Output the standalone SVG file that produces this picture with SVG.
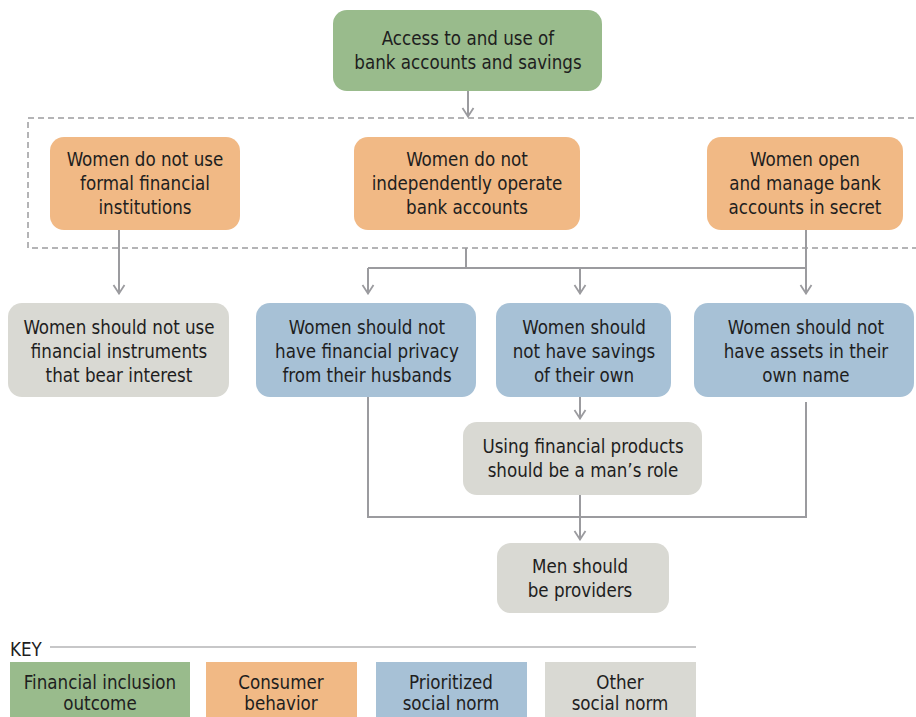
<svg xmlns="http://www.w3.org/2000/svg" width="916" height="717" viewBox="0 0 916 717">
<style>
text{font-family:"DejaVu Sans Condensed","Roboto","Liberation Sans",sans-serif;font-size:18.6px;fill:#1e1e1e;text-anchor:middle}
.g{fill:#99bb8c}.o{fill:#f1b985}.b{fill:#a7c1d6}.n{fill:#d9d9d3}
.c{fill:none;stroke:#9b9b9f;stroke-width:2}
</style>
<defs>
<marker id="ah" viewBox="0 0 14 14" refX="13" refY="7" markerWidth="14" markerHeight="14" markerUnits="userSpaceOnUse" orient="auto">
<path d="M4 1.5 L12.5 7 L4 12.5" fill="none" stroke="#9b9b9f" stroke-width="1.8"/>
</marker>
</defs>
<rect x="28" y="118" width="900" height="130" fill="none" stroke="#b4b4b6" stroke-width="2" stroke-dasharray="6,4"/>
<g id="connectors">
<path class="c" d="M468 91 V117" marker-end="url(#ah)"/>
<path class="c" d="M119 230 V294" marker-end="url(#ah)"/>
<path class="c" d="M466 248 V268 M368 268 H806 M806 230 V268"/>
<path class="c" d="M368 268 V294" marker-end="url(#ah)"/>
<path class="c" d="M580 268 V294" marker-end="url(#ah)"/>
<path class="c" d="M806 268 V294" marker-end="url(#ah)"/>
<path class="c" d="M580 397 V419" marker-end="url(#ah)"/>
<path class="c" d="M368 397 V517 H806 V402 M580 495 V517"/>
<path class="c" d="M580 517 V540" marker-end="url(#ah)"/>
</g>
<g id="n_access"><rect class="g" x="333" y="10" width="269" height="81" rx="14"/><text x="468" y="45">Access to and use of</text><text x="468" y="69">bank accounts and savings</text></g>
<g id="n_formal"><rect class="o" x="50" y="137" width="190" height="93" rx="14"/><text x="145" y="166">Women do not use</text><text x="145" y="190">formal financial</text><text x="145" y="214">institutions</text></g>
<g id="n_operate"><rect class="o" x="354" y="137" width="226" height="93" rx="14"/><text x="467" y="166">Women do not</text><text x="467" y="190">independently operate</text><text x="467" y="214">bank accounts</text></g>
<g id="n_secret"><rect class="o" x="707" y="137" width="196" height="93" rx="14"/><text x="805" y="166">Women open</text><text x="805" y="190">and manage bank</text><text x="805" y="214">accounts in secret</text></g>
<g id="n_interest"><rect class="n" x="8" y="303" width="221" height="94" rx="14"/><text x="119" y="334">Women should not use</text><text x="119" y="358">financial instruments</text><text x="119" y="382">that bear interest</text></g>
<g id="n_privacy"><rect class="b" x="256" y="303" width="220" height="94" rx="14"/><text x="367" y="334">Women should not</text><text x="367" y="358">have financial privacy</text><text x="367" y="382">from their husbands</text></g>
<g id="n_savings"><rect class="b" x="496" y="303" width="175" height="94" rx="14"/><text x="584" y="334">Women should</text><text x="584" y="358">not have savings</text><text x="584" y="382">of their own</text></g>
<g id="n_assets"><rect class="b" x="694" y="303" width="220" height="94" rx="14"/><text x="806" y="334">Women should not</text><text x="806" y="358">have assets in their</text><text x="806" y="382">own name</text></g>
<g id="n_role"><rect class="n" x="463" y="422" width="239" height="73" rx="14"/><text x="583" y="453">Using financial products</text><text x="583" y="477">should be a man’s role</text></g>
<g id="n_providers"><rect class="n" x="497" y="543" width="172" height="70" rx="14"/><text x="580" y="573">Men should</text><text x="580" y="597">be providers</text></g>
<g id="key">
<text x="10" y="656" style="text-anchor:start">KEY</text>
<line x1="50" y1="647" x2="696" y2="647" stroke="#b4b4b6" stroke-width="1.5"/>
<rect class="g" x="10" y="662" width="180" height="55"/><text x="100" y="689">Financial inclusion</text><text x="100" y="710">outcome</text>
<rect class="o" x="206" y="662" width="151" height="55"/><text x="281" y="689">Consumer</text><text x="281" y="710">behavior</text>
<rect class="b" x="376" y="662" width="151" height="55"/><text x="451" y="689">Prioritized</text><text x="451" y="710">social norm</text>
<rect class="n" x="545" y="662" width="151" height="55"/><text x="620" y="689">Other</text><text x="620" y="710">social norm</text>
</g>
</svg>
